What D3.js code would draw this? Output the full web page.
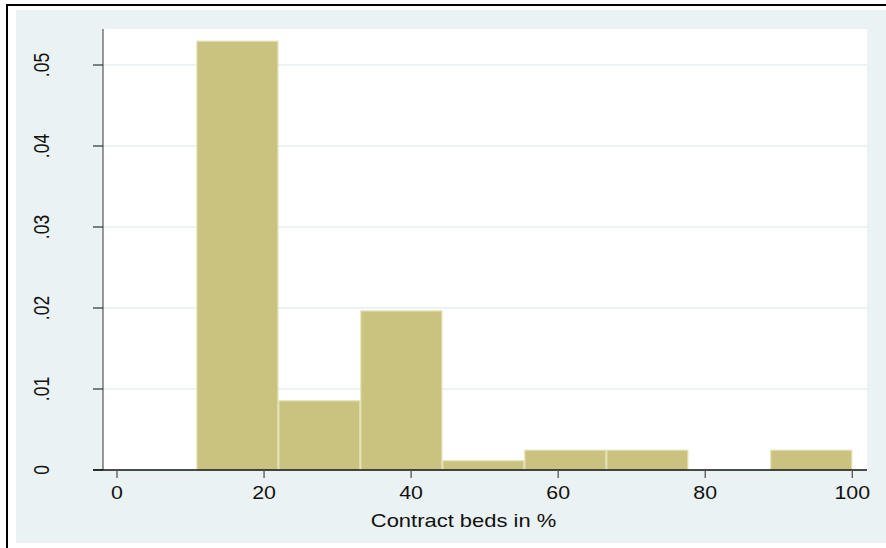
<!DOCTYPE html>
<html>
<head>
<meta charset="utf-8">
<script src="https://cdn.jsdelivr.net/npm/d3@7"></script>
<style>
  html, body { margin: 0; padding: 0; background: #ffffff; }
  svg { display: block; }
  text { font-family: "Liberation Sans", Arial, sans-serif; fill: #111; }
</style>
</head>
<body>
<svg id="chart" width="886" height="548"></svg>
<script>
// Histogram of contract beds (density scale)
const binEdges = [10.8, 21.95, 33.1, 44.25, 55.4, 66.55, 77.7, 88.85, 100];
const densities = [0.0530, 0.0086, 0.0197, 0.0012, 0.0025, 0.0025, 0, 0.0025];
const xTicks = [0, 20, 40, 60, 80, 100];
const yTicks = [0, 0.01, 0.02, 0.03, 0.04, 0.05];
const yTickLabels = ["0", ".01", ".02", ".03", ".04", ".05"];
const xTitle = "Contract beds in %";

const W = 886, H = 548;
const plot = { left: 103, right: 867, top: 29, bottom: 470 };
const textStretch = 1.22;   // labels are drawn slightly wide

const svg = d3.select("#chart");

const x = d3.scaleLinear().domain([0, 100]).range([117, 852.3]);
const y = d3.scaleLinear().domain([0, 0.05]).range([470, 65]);

// outer frame: black rule on top and left, then the tinted graph region
svg.append("rect").attr("x", 16).attr("y", 10).attr("width", W - 16).attr("height", 533)
  .attr("fill", "#eaf2f3");
svg.append("line").attr("x1", 6).attr("x2", W).attr("y1", 5).attr("y2", 5)
  .attr("stroke", "#000").attr("stroke-width", 2);
svg.append("line").attr("x1", 7).attr("x2", 7).attr("y1", 4).attr("y2", H)
  .attr("stroke", "#000").attr("stroke-width", 2);

// plot region
svg.append("rect")
  .attr("x", plot.left).attr("y", plot.top)
  .attr("width", plot.right - plot.left).attr("height", plot.bottom - plot.top)
  .attr("fill", "#ffffff");

// horizontal grid lines
svg.append("g").selectAll("line")
  .data(yTicks.filter(d => d > 0))
  .join("line")
  .attr("x1", plot.left).attr("x2", plot.right)
  .attr("y1", d => y(d)).attr("y2", d => y(d))
  .attr("stroke", "#e6eff1").attr("stroke-width", 1.4);

// bars
const bins = densities.map((d, i) => ({ x0: binEdges[i], x1: binEdges[i + 1], d }));
svg.append("g").selectAll("rect")
  .data(bins.filter(b => b.d > 0))
  .join("rect")
  .attr("x", b => x(b.x0) + 0.5)
  .attr("y", b => y(b.d) + 0.5)
  .attr("width", b => x(b.x1) - x(b.x0) - 1)
  .attr("height", b => y(0) - y(b.d) - 0.5)
  .attr("fill", "#cac27f")
  .attr("stroke", "#e3dfb2")
  .attr("stroke-width", 1.2);

// y axis
const yAxis = svg.append("g");
yAxis.append("line")
  .attr("x1", plot.left).attr("x2", plot.left)
  .attr("y1", plot.top).attr("y2", plot.bottom)
  .attr("stroke", "#555").attr("stroke-width", 1.2);
yAxis.selectAll("line.tick")
  .data(yTicks)
  .join("line").attr("class", "tick")
  .attr("x1", plot.left - 10).attr("x2", plot.left)
  .attr("y1", d => y(d)).attr("y2", d => y(d))
  .attr("stroke", "#333").attr("stroke-width", 1.2);
yAxis.selectAll("text")
  .data(yTicks)
  .join("text")
  .attr("transform", d => `translate(48.5,${y(d)}) scale(${textStretch},1) rotate(-90)`)
  .attr("text-anchor", "middle")
  .attr("font-size", 17.5)
  .text((d, i) => yTickLabels[i]);

// x axis
const xAxis = svg.append("g");
xAxis.append("line")
  .attr("x1", plot.left - 10).attr("x2", plot.right)
  .attr("y1", plot.bottom).attr("y2", plot.bottom)
  .attr("stroke", "#111").attr("stroke-width", 1.3);
xAxis.selectAll("line.tick")
  .data(xTicks)
  .join("line").attr("class", "tick")
  .attr("x1", d => x(d)).attr("x2", d => x(d))
  .attr("y1", plot.bottom).attr("y2", plot.bottom + 8)
  .attr("stroke", "#555").attr("stroke-width", 1.3);
xAxis.selectAll("text")
  .data(xTicks)
  .join("text")
  .attr("transform", d => `translate(${x(d)},498.5) scale(${textStretch},1)`)
  .attr("text-anchor", "middle")
  .attr("font-size", 17.5)
  .text(d => d);

// x axis title
svg.append("text")
  .attr("transform", `translate(463.5,527) scale(${textStretch},1)`)
  .attr("text-anchor", "middle")
  .attr("font-size", 18)
  .text(xTitle);
</script>
</body>
</html>
